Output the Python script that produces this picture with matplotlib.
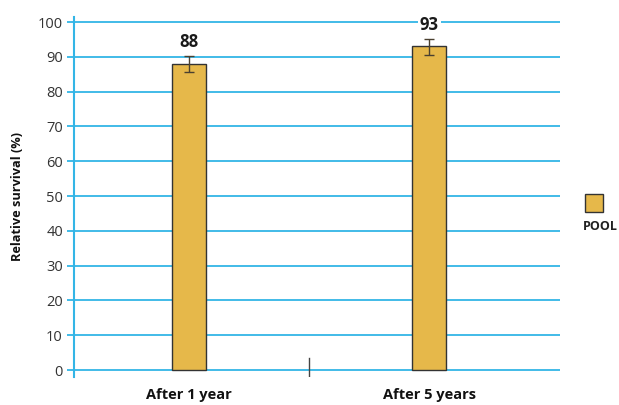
import matplotlib.pyplot as plt
from matplotlib.patches import Rectangle

# data
categories = ["After 1 year", "After 5 years"]
survival = [88, 93]
err_low = [2.4, 2.6]
err_high = [2.2, 2.2]
series_name = "POOL"
yticks = [0, 10, 20, 30, 40, 50, 60, 70, 80, 90, 100]

blue = "#33B5E6"
gold = "#E6B84A"

plt.rcParams['font.family'] = ['Open Sans', 'DejaVu Sans']

fig = plt.figure(figsize=(6.19, 4.05), dpi=100)
ax = fig.add_axes([0.1196, 0.0691, 0.7855, 0.8894])

x = list(range(len(categories)))
ax.bar(x, survival, width=0.142, color=gold, edgecolor="#333333", linewidth=1.0, zorder=3)
ax.errorbar(x, survival, yerr=[err_low, err_high], fmt='none', ecolor="#4a4030",
            elinewidth=1.0, capsize=3.5, capthick=1.0, zorder=4)

for xi, v in zip(x, survival):
    ax.text(xi, v + 6.2, str(v), ha='center', va='center', fontsize=12, fontweight='bold',
            color="#1a1a1a", zorder=5,
            bbox=dict(facecolor='white', edgecolor='none', pad=1.5))

ax.set_xlim(-0.48, 1.545)
ax.set_ylim(-2, 101.5)
ax.set_yticks(yticks)
ax.set_xticks(x)
ax.set_xticklabels(categories, fontsize=10.5, fontweight='bold', color="#111111")
ax.tick_params(axis='x', length=0, pad=8)
ax.tick_params(axis='y', length=5, width=1.3, color=blue, labelsize=10.5,
               labelcolor="#333333", pad=3)
ax.yaxis.grid(True, color=blue, linewidth=1.3, zorder=0)
ax.set_axisbelow(True)

for s in ['top', 'right', 'bottom']:
    ax.spines[s].set_visible(False)
ax.spines['left'].set_color(blue)
ax.spines['left'].set_linewidth(1.5)

# separator tick between groups
ax.axvline(0.5, ymin=0, ymax=0.054, color="#444444", linewidth=1.0)

ax.set_ylabel("Relative survival (%)", fontsize=9.2, fontweight='bold', color="#111111", labelpad=10)

# legend: swatch above its label
fig.add_artist(Rectangle((585 / 619, 1 - 212 / 405), 18 / 619, 18 / 405,
                         transform=fig.transFigure, facecolor=gold,
                         edgecolor="#333333", linewidth=1.0))
fig.text(583 / 619, 1 - 227 / 405, series_name, fontsize=9, fontweight='bold',
         color="#222222", ha='left', va='center')

fig.savefig("out.png", dpi=100)
